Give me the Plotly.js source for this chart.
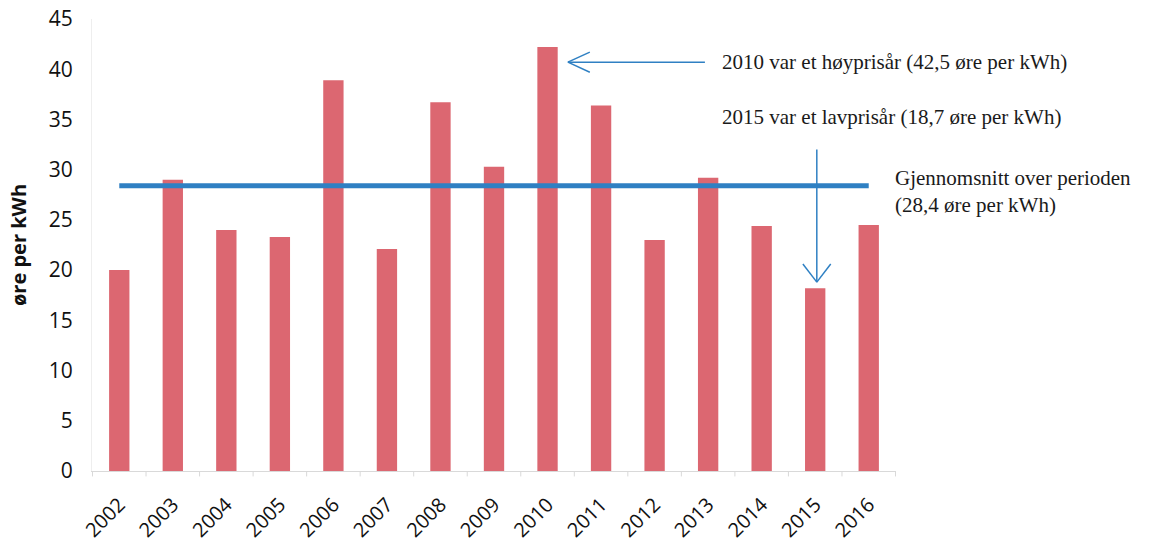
<!DOCTYPE html>
<html><head><meta charset="utf-8">
<script src="https://cdn.plot.ly/plotly-3.0.1.min.js"></script>
<style>body{margin:0;background:#fff}#c{width:1156px;height:547px}</style>
</head><body><div id="c"></div>
<script>
const years = ['2002','2003','2004','2005','2006','2007','2008','2009','2010','2011','2012','2013','2014','2015','2016'];
const prices = [20.0, 29.0, 24.0, 23.3, 38.9, 22.1, 36.7, 30.3, 42.2, 36.4, 23.0, 29.2, 24.4, 18.2, 24.5];
const average = 28.4;
const yTicks = [0,5,10,15,20,25,30,35,40,45];
const notes = [
  '2010 var et høyprisår (42,5 øre per kWh)',
  '2015 var et lavprisår (18,7 øre per kWh)',
  'Gjennomsnitt over perioden<br>(28,4 øre per kWh)'
];

const blue = '#2f80c3';
const arrowLine = {color: blue, width: 1.5};

// arrows (annotation graphics) in category-index / data units
const shapes = [
  {type:'line', xref:'x', yref:'y', x0:10.94, x1:8.38, y0:40.7, y1:40.7, line:arrowLine},
  {type:'line', xref:'x', yref:'y', x0:8.38, x1:8.79, y0:40.7, y1:41.7, line:arrowLine},
  {type:'line', xref:'x', yref:'y', x0:8.38, x1:8.79, y0:40.7, y1:39.7, line:arrowLine},
  {type:'line', xref:'x', yref:'y', x0:13.03, x1:13.03, y0:32.0, y1:18.8, line:arrowLine},
  {type:'line', xref:'x', yref:'y', x0:13.03, x1:12.77, y0:18.8, y1:20.6, line:arrowLine},
  {type:'line', xref:'x', yref:'y', x0:13.03, x1:13.29, y0:18.8, y1:20.6, line:arrowLine}
];
// small category-boundary ticks below the x axis
for (let i = 0; i <= years.length; i++) {
  shapes.push({type:'line', xref:'x', yref:'paper', x0:i-0.5, x1:i-0.5, y0:0, y1:-0.012, line:{color:'#d9d9d9', width:1}});
}

const serif = {family:'Liberation Serif, Times New Roman, serif', size:21, color:'#1a1a1a'};

const data = [
  {type:'bar', x:years, y:prices, marker:{color:'#dc6771'}, width:0.38, hoverinfo:'x+y'},
  {type:'scatter', mode:'lines', x:years, y:years.map(()=>average), line:{color:blue, width:5}, hoverinfo:'y'}
];

const layout = {
  width:1156, height:547,
  margin:{l:92, r:260, t:19, b:76},
  paper_bgcolor:'#fff', plot_bgcolor:'#fff',
  showlegend:false,
  font:{family:'Open Sans, sans-serif', color:'#111'},
  xaxis:{
    type:'category', tickangle:-45,
    tickfont:{size:20, color:'#111'},
    showline:true, linecolor:'#d9d9d9', linewidth:1,
    ticks:'outside', ticklen:13, tickcolor:'rgba(0,0,0,0)',
    showgrid:false, zeroline:false
  },
  yaxis:{
    range:[0,45], tickvals:yTicks, ticktext:yTicks.map(String),
    tickfont:{size:21, color:'#111'},
    showgrid:false, zeroline:false,
    showline:true, linecolor:'#eeeeee', linewidth:1,
    ticks:'outside', ticklen:14, tickcolor:'rgba(0,0,0,0)',
    title:{text:'<b>øre per kWh</b>', font:{size:20, color:'#111'}, standoff:16}
  },
  shapes:shapes,
  annotations:[
    {xref:'paper', yref:'paper', x:0.781, y:0.905, xanchor:'left', yanchor:'middle', text:notes[0], showarrow:false, font:serif},
    {xref:'paper', yref:'paper', x:0.781, y:0.783, xanchor:'left', yanchor:'middle', text:notes[1], showarrow:false, font:serif},
    {xref:'paper', yref:'paper', x:0.996, y:0.618, xanchor:'left', yanchor:'middle', align:'left', text:notes[2], showarrow:false, font:serif}
  ]
};

Plotly.newPlot('c', data, layout, {displayModeBar:false, staticPlot:true});
</script></body></html>
